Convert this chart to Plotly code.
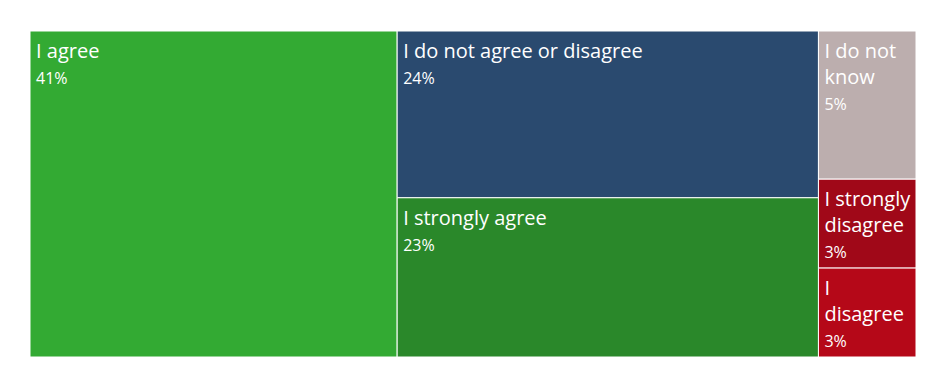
import plotly.graph_objects as go

labels = ["I agree", "I do not agree or disagree", "I strongly agree",
          "I do not know", "I strongly disagree", "I disagree"]
values = [41.4, 24.3, 23.2, 5.0, 3.0, 3.0]
display_labels = ["I agree", "I do not agree or disagree", "I strongly agree",
                  "I do not<br>know", "I strongly<br>disagree", "I<br>disagree"]
colors = ["#33aa33", "#2a4a6f", "#2a882a", "#bcaeae", "#a00818", "#b50818"]

W, H = 946, 388
ML, MR, MT, MB = 30, 27, 31, 28
TEXT_OFFSET = 3  # px inset of labels inside tiles
pw = W - ML - MR
ph = H - MT - MB

common = dict(
    labels=labels,
    parents=[""] * len(labels),
    values=values,
    tiling=dict(packing="squarify", squarifyratio=1.618, pad=0),
    pathbar=dict(visible=False),
    sort=True,
    hoverinfo="skip",
)

# coloured tiles
tiles = go.Treemap(
    **common,
    marker=dict(colors=colors, line=dict(color="white", width=1),
                pad=dict(t=0, l=0, r=0, b=0)),
    textinfo="none",
    root=dict(color="white"),
    domain=dict(x=[0, (pw - TEXT_OFFSET) / pw], y=[TEXT_OFFSET / ph, 1]),
)

# labels layer, same layout slightly inset
texts = go.Treemap(
    **common,
    text=display_labels,
    marker=dict(colors=["rgba(0,0,0,0)"] * len(labels),
                line=dict(color="rgba(0,0,0,0)", width=0),
                pad=dict(t=0, l=0, r=0, b=0)),
    texttemplate="%{text}<br>"
                 "<span style='font-size:16px'>%{percentRoot:.0%}</span>",
    textposition="top left",
    textfont=dict(color="white", size=20, family="Open Sans"),
    root=dict(color="rgba(0,0,0,0)"),
    domain=dict(x=[TEXT_OFFSET / pw, 1], y=[0, (ph - TEXT_OFFSET) / ph]),
)

fig = go.Figure([tiles, texts])
fig.update_layout(
    width=W, height=H,
    margin=dict(l=ML, r=MR, t=MT, b=MB),
    paper_bgcolor="white",
    font=dict(family="Open Sans"),
)
fig.write_html("out.html")
